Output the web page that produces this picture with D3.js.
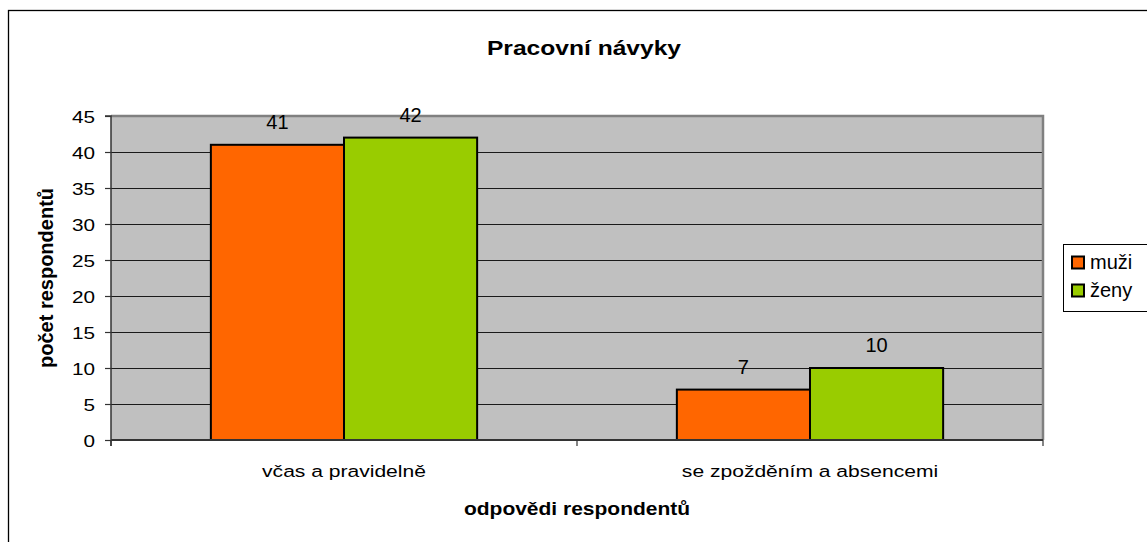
<!DOCTYPE html>
<html>
<head>
<meta charset="utf-8">
<script src="https://cdn.jsdelivr.net/npm/d3@7/dist/d3.min.js"></script>
<style>
  html, body { margin: 0; padding: 0; background: #fff; }
  svg { display: block; font-family: Arial, "Liberation Sans", sans-serif; }
</style>
</head>
<body>
<svg id="chart" width="1147" height="542"></svg>
<script>
const categories = ["včas a pravidelně", "se zpožděním a absencemi"];
const seriesNames = ["muži", "ženy"];
const muzi = [41, 7];
const zeny = [42, 10];
const yTicks = [0, 5, 10, 15, 20, 25, 30, 35, 40, 45];
const colors = ["#FF6600", "#99CC00"];
const title = "Pracovní návyky";
const xTitle = "odpovědi respondentů";
const yTitle = "počet respondentů";

const svg = d3.select("#chart");
const plot = { left: 111, right: 1043, top: 116, bottom: 440 };

// outer border
svg.append("rect").attr("x", 8.5).attr("y", 10.5).attr("width", 1300).attr("height", 700)
  .attr("fill", "#fff").attr("stroke", "#000").attr("stroke-width", 1.3);

const x0 = d3.scaleBand().domain(categories).range([plot.left, plot.right]).paddingInner(0).paddingOuter(0);
const groupWidth = x0.bandwidth() * (2 / 3.5);
const x1 = d3.scaleBand().domain(seriesNames).range([0, groupWidth]).padding(0);
const y = d3.scaleLinear().domain([0, 45]).range([plot.bottom, plot.top]);

// plot background
svg.append("rect").attr("x", plot.left).attr("y", plot.top)
  .attr("width", plot.right - plot.left).attr("height", plot.bottom - plot.top)
  .attr("fill", "#C0C0C0");

// gridlines
svg.append("g").selectAll("line").data(yTicks.filter(d => d > 0 && d < 45)).join("line")
  .attr("x1", plot.left).attr("x2", plot.right)
  .attr("y1", d => Math.round(y(d)) + 0.5).attr("y2", d => Math.round(y(d)) + 0.5)
  .attr("stroke", "#1a1a1a").attr("stroke-width", 1);

// plot border top & right (gray)
svg.append("path")
  .attr("d", `M${plot.left},${plot.top} H${plot.right} V${plot.bottom}`)
  .attr("fill", "none").attr("stroke", "#808080").attr("stroke-width", 2.5);

// bars
const data = categories.map((c, i) => ({ cat: c, vals: [muzi[i], zeny[i]] }));
const gOff = (x0.bandwidth() - groupWidth) / 2;
const groups = svg.append("g").selectAll("g").data(data).join("g")
  .attr("transform", d => `translate(${x0(d.cat) + gOff},0)`);
groups.selectAll("rect").data(d => d.vals.map((v, j) => ({ v, s: seriesNames[j], j }))).join("rect")
  .attr("x", d => x1(d.s)).attr("y", d => y(d.v))
  .attr("width", x1.bandwidth()).attr("height", d => y(0) - y(d.v))
  .attr("fill", d => colors[d.j]).attr("stroke", "#000").attr("stroke-width", 2);
groups.selectAll("text").data(d => d.vals.map((v, j) => ({ v, s: seriesNames[j], j }))).join("text")
  .attr("x", d => x1(d.s) + x1.bandwidth() / 2).attr("y", d => y(d.v) - 16)
  .attr("text-anchor", "middle").attr("font-size", 20).attr("fill", "#000")
  .text(d => d.v);

// y axis
const yAxis = d3.axisLeft(y).tickValues(yTicks).tickSize(6).tickPadding(0).tickFormat(d3.format("d"));
const gy = svg.append("g").attr("transform", `translate(${plot.left},0)`).call(yAxis);
gy.select(".domain").attr("stroke", "#333").attr("stroke-width", 1.5).attr("d", `M-6,${plot.top}H0V${plot.bottom + 6}`);
gy.selectAll(".tick line").attr("stroke", "#333").attr("stroke-width", 1.2);
gy.selectAll(".tick text").attr("font-size", 17).attr("fill", "#000").attr("font-family", null)
  .attr("x", null).attr("dy", null)
  .attr("transform", "translate(-16,6) scale(1.22,1)").attr("text-anchor", "end");

// x axis
const xAxis = d3.axisBottom(x0).tickSize(0).tickFormat("");
const gx = svg.append("g").attr("transform", `translate(0,${plot.bottom})`).call(xAxis);
gx.select(".domain").attr("stroke", "#333").attr("stroke-width", 2).attr("d", `M${plot.left},0H${plot.right}`);
gx.selectAll(".tick").remove();
const boundaries = [plot.left, ...categories.slice(1).map(c => x0(c)), plot.right];
gx.append("g").selectAll("line").data(boundaries).join("line")
  .attr("x1", d => d).attr("x2", d => d).attr("y1", 0).attr("y2", 6)
  .attr("stroke", "#333").attr("stroke-width", 1.2);
gx.append("g").selectAll("text").data(categories).join("text")
  .attr("transform", d => `translate(${x0(d) + x0.bandwidth() / 2},37) scale(1.24,1)`)
  .attr("text-anchor", "middle").attr("font-size", 17).attr("fill", "#000")
  .text(d => d);

// title
svg.append("text").attr("transform", "translate(584,55) scale(1.23,1)")
  .attr("text-anchor", "middle").attr("font-size", 20).attr("font-weight", "bold").text(title);

// axis titles
svg.append("text").attr("transform", "translate(577,515) scale(1.2,1)")
  .attr("text-anchor", "middle").attr("font-size", 17.5).attr("font-weight", "bold").text(xTitle);
svg.append("text").attr("transform", `translate(53,${(plot.top + plot.bottom) / 2}) rotate(-90)`)
  .attr("text-anchor", "middle").attr("font-size", 20).attr("font-weight", "bold").text(yTitle);

// legend
const lg = svg.append("g").attr("transform", "translate(1063,244)");
lg.append("rect").attr("x", 0.5).attr("y", 0.5).attr("width", 100).attr("height", 67)
  .attr("fill", "#fff").attr("stroke", "#000").attr("stroke-width", 1);
const li = lg.selectAll("g.item").data(seriesNames).join("g").attr("class", "item")
  .attr("transform", (d, i) => `translate(0,${12 + i * 28})`);
li.append("rect").attr("x", 9).attr("y", 0.5).attr("width", 12).attr("height", 12)
  .attr("fill", (d, i) => colors[i]).attr("stroke", "#000").attr("stroke-width", 2);
li.append("text").attr("x", 27).attr("y", 13).attr("font-size", 20).attr("fill", "#000").text(d => d);
</script>
</body>
</html>
